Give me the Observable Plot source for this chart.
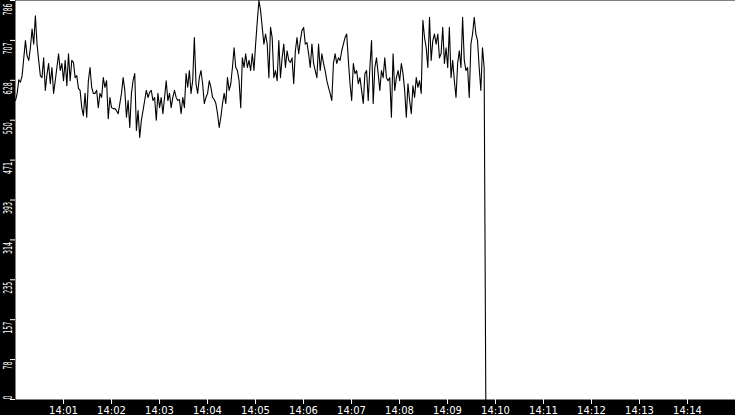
<!DOCTYPE html>
<html><head><meta charset="utf-8">
<script src="https://cdn.jsdelivr.net/npm/d3@7"></script>
<script src="https://cdn.jsdelivr.net/npm/@observablehq/plot@0.6"></script>
<style>
html,body{margin:0;padding:0;background:#000;}
</style></head><body><div id="chart"></div>
<script>
// series values, one sample every ~2 s starting 14:00:00
const seriesValues = [
  589,603,630,625,638,673,707,677,668,693,730,700,756,700,668,638,634,673,609,640,662,622,654,603,628,654,681,648,662,628,668,618,681,628,668,664,634,638,613,609,575,559,603,556,628,654,615,603,
  603,609,575,603,595,634,615,628,553,595,575,573,573,569,563,583,603,634,609,556,589,536,603,628,642,530,569,516,550,569,589,609,595,605,609,589,595,550,603,575,595,563,595,628,589,603,575,595,
  609,595,589,591,563,595,575,642,615,648,603,628,713,622,603,634,648,622,583,595,603,628,615,595,591,583,563,536,556,583,603,583,634,609,622,654,693,654,648,628,575,673,654,681,654,668,648,681,
  648,700,745,786,766,733,700,720,700,634,733,713,634,648,628,707,634,673,700,654,687,668,664,673,622,687,713,681,707,727,733,700,703,681,654,700,662,648,634,700,648,681,662,648,628,615,603,589,
  662,681,662,673,668,687,700,713,720,668,622,589,662,642,648,622,634,609,583,642,648,589,654,707,583,654,673,642,609,648,634,673,634,628,634,556,681,609,634,648,628,662,642,609,556,622,589,563,
  618,595,634,615,628,603,747,713,693,654,753,668,707,720,700,720,673,681,733,662,693,654,733,634,668,628,595,662,687,654,753,668,648,654,595,700,720,753,720,707,654,609,693,654,
  0
];
const sampleSeconds = 2.07;
const xDomainLabels = ["14:00", "14:15"];
const xTickLabels = ["14:01","14:02","14:03","14:04","14:05","14:06","14:07","14:08","14:09","14:10","14:11","14:12","14:13","14:14"];
const yDomain = [0, 786];
const yTickValues = [0, 78.6, 157.2, 235.8, 314.4, 393, 471.6, 550.2, 628.8, 707.4, 786];
const yTickLabels = ["0","78","157","235","314","393","471","550","628","707","786"];

const parseT = s => new Date("2024-01-01T" + s + ":00Z");
const t0 = parseT(xDomainLabels[0]);
const data = seriesValues.map((v, i) => ({time: new Date(+t0 + i * sampleSeconds * 1000), value: v}));
const yTicks = yTickValues.map((v, i) => ({v, label: yTickLabels[i]}));

const chart = Plot.plot({
  width: 735, height: 415,
  marginLeft: 15, marginRight: 0, marginTop: 0, marginBottom: 16,
  style: {background: "#000", color: "#fff", fontFamily: "DejaVu Sans", fontSize: "10px"},
  x: {type: "utc", domain: xDomainLabels.map(parseT)},
  y: {domain: yDomain},
  marks: [
    Plot.frame({fill: "#fff", stroke: "none"}),
    Plot.axisX({ticks: xTickLabels.map(parseT), tickFormat: d3.utcFormat("%H:%M"), tickSize: 5, tickPadding: 2, stroke: "#fff", fill: "#fff", label: null}),
    Plot.axisY({ticks: yTickValues, tickSize: 5, tickFormat: () => "", stroke: "#fff", label: null}),
    Plot.text(yTicks.filter(d => d.v > 0 && d.v < 786), {y: "v", text: "label", frameAnchor: "left", dx: -8, dy: 2, rotate: -90, textAnchor: "end", fill: "#fff", fontSize: 13}),
    Plot.text(yTicks.filter(d => d.v === 786), {y: "v", text: "label", frameAnchor: "left", dx: -8, dy: 3, rotate: -90, textAnchor: "end", fill: "#fff", fontSize: 13}),
    Plot.text(yTicks.filter(d => d.v === 0), {y: "v", text: "label", frameAnchor: "left", dx: -8, dy: 0, rotate: -90, textAnchor: "start", fill: "#fff", fontSize: 13}),
    Plot.line(data, {x: "time", y: "value", stroke: "#000", strokeWidth: 1.1})
  ]
});
document.getElementById("chart").appendChild(chart);
// squeeze the rotated y labels into the narrow left strip
chart.querySelectorAll('g[aria-label="text"] text').forEach(t => {
  const n = t.textContent.length;
  t.setAttribute("textLength", (4 * n).toFixed(1));
  t.setAttribute("lengthAdjust", "spacingAndGlyphs");
});
</script>
</body></html>
